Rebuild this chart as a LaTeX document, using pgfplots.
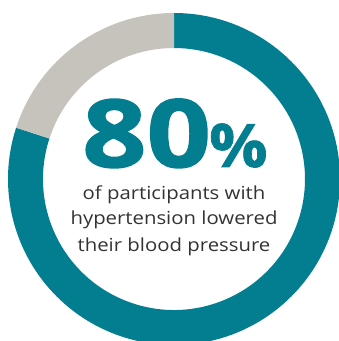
\documentclass[border=0pt]{standalone}
\usepackage{pgfplots}
\pgfplotsset{compat=1.18}
\usepackage{pgfplotstable}
\usepackage{fontspec}
\setmainfont{Open Sans}
\newfontfamily\bigfont[FakeStretch=1.2,FakeBold=1.6]{Open Sans Bold}
\newfontfamily\pctfont[FakeStretch=1.08,FakeBold=1.2]{Open Sans Bold}
\newfontfamily\bodyfont[FakeStretch=1.13]{Open Sans}
\definecolor{teal1}{HTML}{037E91}
\definecolor{gray1}{HTML}{C6C3BD}
\definecolor{txt}{HTML}{333333}
\pgfplotstableread{
label value
lowered 80
other 20
}\donutdata
\begin{document}
\begin{tikzpicture}
\pgfplotstablegetelem{0}{value}\of\donutdata \let\va\pgfplotsretval
\pgfplotstablegetelem{1}{value}\of\donutdata \let\vb\pgfplotsretval
\pgfmathsetmacro{\aend}{90-3.6*\va}
\pgfmathsetmacro{\bend}{90+3.6*\vb}
\begin{axis}[
  hide axis, scale only axis,
  width=339pt, height=341pt,
  xmin=0, xmax=339, ymin=0, ymax=341,
  clip=true,
]
\addplot[draw=none] coordinates {(0,0) (339,341)};
% teal segment (80%)
\fill[teal1] ([shift={(90:166pt)}]axis cs:174,162) arc[start angle=90, end angle=\aend, radius=166pt]
   -- ([shift={(\aend:131pt)}]axis cs:174,162) arc[start angle=\aend, end angle=90, radius=131pt] -- cycle;
% gray segment (20%)
\fill[gray1] ([shift={(90:166pt)}]axis cs:174,162) arc[start angle=90, end angle=\bend, radius=166pt]
   -- ([shift={(\bend:131pt)}]axis cs:174,162) arc[start angle=\bend, end angle=90, radius=131pt] -- cycle;
\node[anchor=base west, inner sep=0pt, text height=68pt, text depth=0pt, text=teal1, font=\bigfont\fontsize{94}{94}\selectfont] at (axis cs:82,174) {80};
\node[anchor=base west, inner sep=0pt, text height=45pt, text depth=0pt, text=teal1, font=\pctfont\fontsize{60}{60}\selectfont] at (axis cs:209,174) {\%};
\node[anchor=base, inner sep=0pt, text height=13pt, text depth=4pt, text=txt, font=\bodyfont\fontsize{18}{18}\selectfont] at (axis cs:174,142) {of participants with};
\node[anchor=base, inner sep=0pt, text height=13pt, text depth=4pt, text=txt, font=\bodyfont\fontsize{18}{18}\selectfont] at (axis cs:174,116) {hypertension lowered};
\node[anchor=base, inner sep=0pt, text height=13pt, text depth=4pt, text=txt, font=\bodyfont\fontsize{18}{18}\selectfont] at (axis cs:174,89) {their blood pressure};
\end{axis}
\end{tikzpicture}
\end{document}
